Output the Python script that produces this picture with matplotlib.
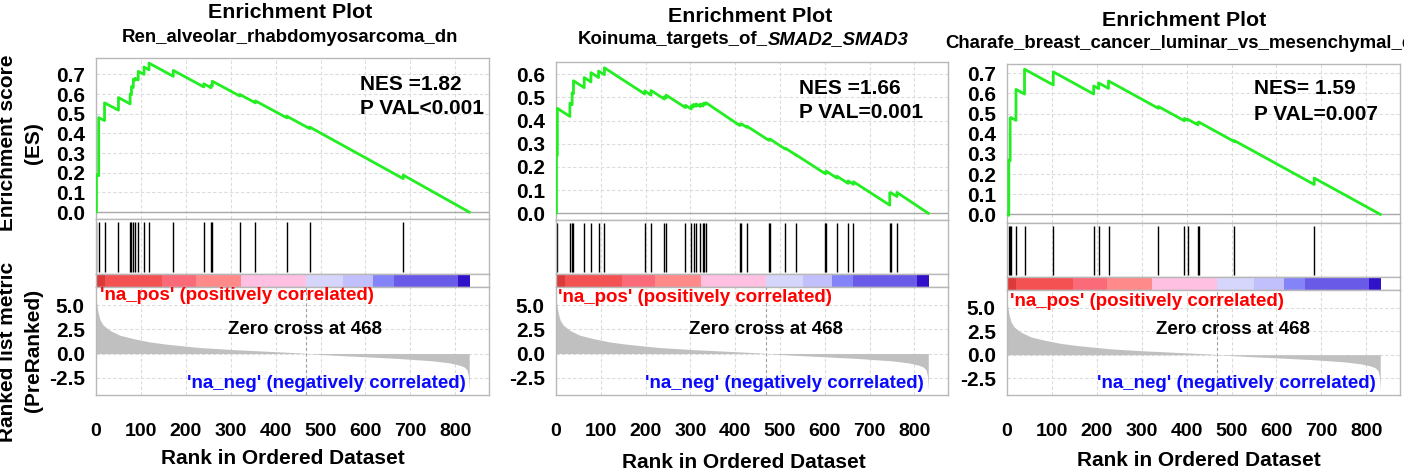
import matplotlib
matplotlib.use('Agg')
import matplotlib.pyplot as plt

plt.rcParams['font.family'] = ['Liberation Sans', 'DejaVu Sans']
plt.rcParams['font.weight'] = 'bold'

W, H = 1404, 475

# ---------------- data ----------------
# ranked list metric (shared by all three panels), read at sample ranks
rank_pts = [0, 2, 5, 9, 16, 31, 53, 83, 120, 157, 231, 305, 379, 453, 468,
            527, 601, 676, 750, 787, 809, 820, 826, 829, 831]
metric_pts = [5.8, 5.0, 4.2, 3.5, 2.95, 2.4, 1.9, 1.55, 1.2, 0.97, 0.62, 0.41,
              0.24, 0.07, 0.0, -0.17, -0.34, -0.52, -0.76, -0.97, -1.2, -1.4,
              -1.7, -2.3, -3.8]
zero_cross = 468
n_genes = 832

# colour strip of the ranked list
bar_edges = [0, 20, 148, 222, 323, 468, 551, 616, 664, 806, 832]
bar_colors = ['#dc3a3a', '#f45252', '#fb6a78', '#ff8a8a', '#ffc0e2',
              '#d6d6fc', '#c2c0fc', '#8484f8', '#6a5ae8', '#3212c8']

# panel 1: Ren_alveolar_rhabdomyosarcoma_dn
p1_hits = [1, 6, 19, 50, 76, 79, 83, 87, 94, 107, 118, 172, 240, 256, 259,
           320, 355, 425, 476, 684]
p1_es_before = [0.0, 0.185, 0.465, 0.518, 0.55, 0.597, 0.633, 0.67, 0.672,
                0.70, 0.723, 0.69, 0.636, 0.632, 0.641, 0.59, 0.555, 0.479,
                0.424, 0.17]
p1_es_after = [0.19, 0.48, 0.555, 0.582, 0.60, 0.638, 0.675, 0.68, 0.715,
               0.737, 0.757, 0.72, 0.652, 0.645, 0.665, 0.598, 0.565, 0.487,
               0.432, 0.188]

# panel 2: Koinuma_targets_of_SMAD2_SMAD3
p2_hits = [1, 3, 31, 36, 39, 63, 78, 95, 108, 198, 212, 242, 246, 289, 302,
           307, 313, 322, 328, 331, 335, 410, 414, 426, 475, 478, 512, 536,
           600, 603, 627, 652, 664, 745, 748, 761]
p2_es_before = [0.0, 0.25, 0.418, 0.469, 0.516, 0.542, 0.567, 0.586, 0.598,
                0.515, 0.51, 0.493, 0.498, 0.456, 0.45, 0.459, 0.462, 0.461,
                0.463, 0.469, 0.471, 0.379, 0.381, 0.371, 0.315, 0.316, 0.277,
                0.251, 0.172, 0.172, 0.152, 0.129, 0.125, 0.035, 0.085, 0.072]
p2_es_after = [0.25, 0.453, 0.475, 0.52, 0.572, 0.586, 0.607, 0.614, 0.628,
               0.528, 0.53, 0.503, 0.51, 0.466, 0.465, 0.47, 0.472, 0.471,
               0.473, 0.476, 0.477, 0.386, 0.386, 0.376, 0.32, 0.32, 0.281,
               0.252, 0.176, 0.182, 0.16, 0.14, 0.136, 0.089, 0.088, 0.09]

# panel 3: Charafe_breast_cancer_luminar_vs_mesenchymal_dn
p3_hits = [4, 7, 9, 20, 39, 103, 193, 204, 226, 337, 395, 402, 425, 427,
           506, 684]
p3_es_before = [-0.005, 0.266, 0.475, 0.466, 0.597, 0.642, 0.597, 0.624,
                0.625, 0.526, 0.464, 0.467, 0.444, 0.453, 0.361, 0.148]
p3_es_after = [0.27, 0.478, 0.48, 0.62, 0.72, 0.707, 0.637, 0.652, 0.662,
               0.535, 0.476, 0.472, 0.455, 0.458, 0.366, 0.18]

x_ticks = [0, 100, 200, 300, 400, 500, 600, 700, 800]
es_ticks_a = [0.0, 0.1, 0.2, 0.3, 0.4, 0.5, 0.6, 0.7]
es_ticks_b = [0.0, 0.1, 0.2, 0.3, 0.4, 0.5, 0.6]
rank_ticks = [-2.5, 0.0, 2.5, 5.0]

main_title = 'Enrichment Plot'
nes_labels = ['NES =1.82', 'NES =1.66', 'NES= 1.59']
pval_labels = ['P VAL<0.001', 'P VAL=0.001', 'P VAL=0.007']
pos_label = "'na_pos' (positively correlated)"
neg_label = "'na_neg' (negatively correlated)"
zero_label = 'Zero cross at 468'
x_label = 'Rank in Ordered Dataset'

# ---------------- layout (pixels) ----------------
panels = [
    dict(l=96, r=489, es_t=58, es_b=219, cb_t=274, cb_b=287, rk_b=395,
         es_ylim=(-0.035, 0.783), es_ticks=es_ticks_a,
         hits=p1_hits, bef=p1_es_before, aft=p1_es_after,
         title_x=290, title_y=13,
         nes_x=360, nes_y=84, pv_y=109,
         pos_xy=(100, 296), zero_xy=(305, 330), neg_xy=(466, 383),
         xl_xy=(283, 458)),
    dict(l=556, r=948, es_t=62, es_b=220, cb_t=274, cb_b=287, rk_b=395,
         es_ylim=(-0.029, 0.653), es_ticks=es_ticks_b,
         hits=p2_hits, bef=p2_es_before, aft=p2_es_after,
         title_x=750, title_y=16,
         nes_x=799, nes_y=88, pv_y=113,
         pos_xy=(558, 297), zero_xy=(766, 330), neg_xy=(924, 384),
         xl_xy=(744, 463)),
    dict(l=1007, r=1400, es_t=64, es_b=223, cb_t=277, cb_b=290, rk_b=395,
         es_ylim=(-0.043, 0.746), es_ticks=es_ticks_a,
         hits=p3_hits, bef=p3_es_before, aft=p3_es_after,
         title_x=1184, title_y=20,
         nes_x=1254, nes_y=88, pv_y=115,
         pos_xy=(1010, 302), zero_xy=(1233, 330), neg_xy=(1376, 383),
         xl_xy=(1199, 460)),
]

fig = plt.figure(figsize=(W / 100, H / 100), dpi=100)
fig.patch.set_facecolor('white')

FRAME = '#b8b8b8'
GRID = '#dcdcdc'
XMAX = 875


def add_ax(l, t, r, b):
    return fig.add_axes([l / W, 1 - b / H, (r - l) / W, (b - t) / H])


def ftext(x, y, s, **kw):
    kw.setdefault('va', 'center')
    kw.setdefault('fontweight', 'bold')
    return fig.text(x / W, 1 - y / H, s, **kw)


def style(ax):
    for sp in ax.spines.values():
        sp.set_color(FRAME)
        sp.set_linewidth(1.0)
    ax.set_xlim(0, XMAX)
    ax.tick_params(length=0)


for i, p in enumerate(panels):
    # ---- ES panel ----
    ax = add_ax(p['l'], p['es_t'], p['r'], p['es_b'])
    style(ax)
    xs, ys = [0], [0.0]
    for h, b, a in zip(p['hits'], p['bef'], p['aft']):
        xs += [h, h]
        ys += [b, a]
    xs.append(n_genes - 1)
    ys.append(0.0)
    for xt in x_ticks[1:]:
        ax.axvline(xt, color=GRID, lw=0.8, ls=(0, (3, 2)), zorder=0)
    for yt in p['es_ticks'][1:]:
        ax.axhline(yt, color=GRID, lw=0.8, ls=(0, (3, 2)), zorder=0)
    ax.axhline(0, color='#a8a8a8', lw=1.0, zorder=1)
    ax.plot(xs, ys, color='#22ee22', lw=2.0, zorder=3)
    ax.set_ylim(*p['es_ylim'])
    ax.set_yticks(p['es_ticks'])
    ax.set_yticklabels([f'{v:.1f}' for v in p['es_ticks']],
                       fontsize=15, fontweight='bold')
    ax.tick_params(axis='y', pad=8)
    ax.set_xticks([])
    ftext(p['nes_x'], p['nes_y'], nes_labels[i], fontsize=15, ha='left')
    ftext(p['nes_x'], p['pv_y'], pval_labels[i], fontsize=15, ha='left')

    # ---- hits panel ----
    axh = add_ax(p['l'], p['es_b'], p['r'], p['cb_t'])
    style(axh)
    for xt in x_ticks[1:]:
        axh.axvline(xt, color=GRID, lw=0.8, ls=(0, (3, 2)), zorder=0)
    axh.vlines(p['hits'], 0.04, 0.95, color='black', lw=1.0)
    axh.set_ylim(0, 1)
    axh.set_xticks([])
    axh.set_yticks([])

    # ---- colour strip ----
    axc = add_ax(p['l'], p['cb_t'], p['r'], p['cb_b'])
    style(axc)
    for a0, a1, c in zip(bar_edges[:-1], bar_edges[1:], bar_colors):
        axc.axvspan(a0, a1, color=c, lw=0)
    axc.set_ylim(0, 1)
    axc.set_xticks([])
    axc.set_yticks([])

    # ---- ranked metric panel ----
    axr = add_ax(p['l'], p['cb_b'], p['r'], p['rk_b'])
    style(axr)
    for xt in x_ticks[1:]:
        axr.axvline(xt, color=GRID, lw=0.8, ls=(0, (3, 2)), zorder=0)
    for yt in rank_ticks:
        axr.axhline(yt, color=GRID, lw=0.8, ls=(0, (3, 2)), zorder=0)
    axr.fill_between(rank_pts, metric_pts, 0, color='#c0c0c0', lw=0,
                     zorder=1)
    axr.axvline(zero_cross, color='#a0a0a0', lw=0.8, ls=(0, (3, 2)),
                zorder=2)
    axr.set_ylim(-4.3, 6.9)
    axr.set_yticks(rank_ticks)
    axr.set_yticklabels([f'{v:.1f}' for v in rank_ticks], fontsize=15,
                        fontweight='bold')
    axr.tick_params(axis='y', pad=8)
    axr.set_xticks(x_ticks)
    axr.set_xticklabels([str(v) for v in x_ticks], fontsize=14,
                        fontweight='bold')
    axr.tick_params(axis='x', pad=20)

    ftext(p['pos_xy'][0], p['pos_xy'][1], pos_label, fontsize=13.5,
          ha='left', color='#ff0000')
    ftext(p['zero_xy'][0], p['zero_xy'][1], zero_label, fontsize=13.5,
          ha='center', color='black')
    ftext(p['neg_xy'][0], p['neg_xy'][1], neg_label, fontsize=13.5,
          ha='right', color='#0a0aff')
    ftext(p['xl_xy'][0], p['xl_xy'][1], x_label, fontsize=15, ha='center')

    ftext(p['title_x'], p['title_y'], main_title, fontsize=15.4,
          ha='center')

# subtitles
ftext(290, 37, 'Ren_alveolar_rhabdomyosarcoma_dn', fontsize=13.4,
      ha='center')
ftext(768, 40, 'Koinuma_targets_of_', fontsize=13.4, ha='right')
ftext(768, 40, 'SMAD2_SMAD3', fontsize=13.4, ha='left', fontstyle='italic')
ftext(945, 43, 'Charafe_breast_cancer_luminar_vs_mesenchymal_dn',
      fontsize=13.4, ha='left')

# y axis labels (left panel only)
ftext(8, 143, 'Enrichment score', fontsize=15, ha='center', rotation=90)
ftext(33, 143, '(ES)', fontsize=15, ha='center', rotation=90)
ftext(8, 352, 'Ranked list metric', fontsize=15, ha='center', rotation=90)
ftext(33, 350, '(PreRanked)', fontsize=15, ha='center', rotation=90)

fig.savefig('out.png', dpi=100, facecolor='white')
